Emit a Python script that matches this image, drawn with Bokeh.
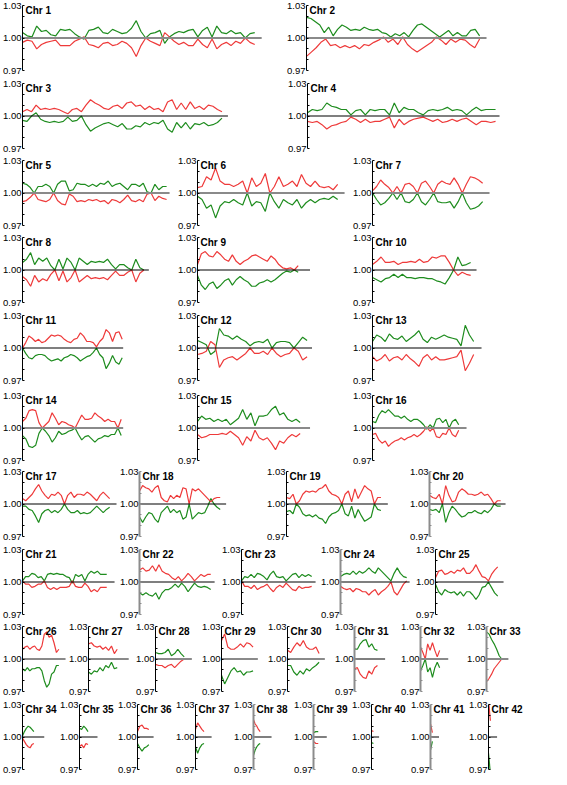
import numpy as np
from bokeh.plotting import figure
from bokeh.layouts import row, column
from bokeh.models import Label, FixedTicker, NumeralTickFormatter
from bokeh.embed import file_html
from bokeh.resources import INLINE

# ---------------- data ----------------
chrom_names = [f"Chr {i}" for i in range(1, 43)]
chrom_len_mb = [234, 175, 201, 190, 146, 142, 112, 123, 102, 100, 101, 111, 103, 100,
                104, 88, 89, 82, 96, 73, 86, 73, 72, 68, 64, 38, 30, 30, 33, 33, 24,
                20, 16, 12, 9, 12, 9, 7, 5, 2, 2, 2]
tick_values = [0.97, 1.00, 1.03]
minor_tick_values = [0.98, 0.99, 1.01, 1.02]
baseline_value = 1.00

# per-mille deviation from 1.00, evenly spaced along each chromosome
red_01 = [-4,-2,-3,-10,-6,-4,-3,-2,-7,-7,-7,-3,-1,1,-6,-7,-9,-5,-4,-7,-6,-3,-5,-9,-17,-7,0,-3,-5,-7,5,1,-3,-6,-4,-7,-7,-1,-6,-9,-1,-10,-6,-4,-7,-3,-5,0,-4,-6]
green_01 = [5,2,1,11,6,7,3,2,8,7,8,4,1,-1,7,8,10,5,4,8,6,4,5,9,16,6,0,4,5,7,-5,1,4,6,5,7,8,1,7,10,1,11,5,4,7,4,5,0,4,5]
red_02 = [-17,-13,-9,-4,-1,-7,-6,-9,-7,-9,-7,-10,-6,-7,-4,-2,1,-4,-1,-6,1,-6,-10,-13,-10,-7,-4,1,-2,-6,-1,-4,-1,-2,-6,-9,-1]
green_02 = [19,18,15,12,5,10,2,8,12,10,7,8,7,10,8,7,8,5,4,1,4,2,5,1,7,12,13,10,7,4,1,4,7,2,5,2,2,7,8,2]
red_03 = [4,6,4,10,6,7,6,7,6,4,2,6,7,4,10,15,12,10,7,6,9,10,7,12,13,9,10,6,9,6,7,4,13,15,6,12,6,13,7,9,6,10,9,6,4]
green_03 = [-4,-5,0,3,-3,-5,-6,-5,-6,-5,-1,-5,-4,0,-8,-14,-11,-9,-7,-6,-8,-10,-7,-12,-12,-9,-10,-6,-8,-6,-7,-4,-12,-15,-6,-11,-6,-12,-7,-8,-6,-9,-8,-6,-2]
red_04 = [-5,-6,-5,-8,-12,-9,-8,-6,-5,-1,-3,-6,-3,-6,-5,-5,-3,-1,-11,-3,-8,-5,-3,-2,-1,-3,-5,-3,-6,-5,-3,-5,-3,-2,-5,-8,-5,-5,-6,-5]
green_04 = [3,6,5,6,12,9,8,6,6,1,5,6,1,6,5,6,6,1,12,3,8,6,6,3,1,5,6,5,6,8,5,6,5,1,5,8,5,6,6,6]
red_05 = [-8,-7,-4,0,-6,-7,-8,-6,0,-7,-10,-11,-1,-3,-8,-7,-8,-6,-7,-6,-8,-7,-10,-6,-7,-9,-6,-2,-7,-8,-6,-8,-1,0,-7,-3,-5,-6]
green_05 = [9,8,5,0,6,6,8,6,0,8,11,11,2,3,9,8,8,6,8,6,9,8,11,6,8,9,6,3,8,8,6,9,1,0,8,3,6,6]
red_06 = [5,6,15,12,23,11,8,8,6,8,11,0,14,6,9,18,0,6,15,6,8,11,6,17,9,6,11,6,5,6,3,8]
green_06 = [-3,-6,-14,-11,-23,-12,-8,-9,-6,-9,-11,0,-12,-8,-9,-17,0,-8,-14,-6,-9,-11,-6,-14,-9,-6,-9,-6,-5,-6,-3,-6]
red_07 = [2,6,12,8,5,0,6,0,8,9,6,0,9,11,6,0,8,11,9,8,14,8,0,8,15,14,12,9]
green_07 = [0,-6,-11,-9,-5,0,-6,0,-8,-9,-6,0,-8,-11,-6,0,-8,-9,-9,-8,-14,-8,0,-9,-15,-14,-12,-8]
red_08 = [-6,-9,-15,-5,-11,-8,-10,-4,0,-10,-1,-11,-7,0,-11,-8,-5,-8,-7,-8,-7,-9,-5,-1,-5,-5,-2,0,-11,-3,0]
green_08 = [7,10,16,5,11,8,11,4,0,10,1,11,7,0,11,8,5,8,7,8,7,10,5,1,5,5,2,0,10,2,0]
red_09 = [5,15,17,13,12,17,14,10,8,14,8,5,8,10,13,14,12,10,8,13,10,5,2,1,2,0,4]
green_09 = [-5,-14,-18,-13,-11,-17,-14,-10,-8,-14,-9,-6,-9,-11,-15,-15,-12,-11,-9,-11,-9,-6,-3,-1,-2,0,-2]
red_10 = [5,8,12,7,7,8,5,7,7,8,7,10,7,8,12,11,13,13,7,0,-5,-2,-4,-5]
green_10 = [-7,-9,-11,-8,-7,-4,-7,-4,-7,-7,-8,-7,-7,-8,-8,-10,-11,-13,-7,0,12,4,5,7]
red_11 = [0,5,11,9,6,8,5,6,9,12,11,12,11,8,6,5,8,9,14,11,6,6,5,1,6,9,17,14,6,14,15,8]
green_11 = [0,-5,-9,-10,-7,-6,-6,-7,-10,-12,-11,-10,-12,-9,-8,-6,-7,-9,-12,-10,-8,-7,-4,0,-6,-9,-19,-14,-7,-13,-15,-9]
red_12 = [-6,-5,-3,6,3,-18,-11,-9,-8,-11,-8,-5,0,-5,-5,-3,-6,0,-5,-8,-6,-5,0,-3,-11,-8]
green_12 = [7,5,3,-6,-3,18,12,11,8,11,8,6,2,5,6,5,8,0,5,6,6,5,0,5,10,7]
red_13 = [-8,-12,-10,-6,-12,-9,-8,-11,-6,-10,-13,-17,-9,-6,-11,-8,-11,-11,-10,-9,-8,-2,-21,-14,-6]
green_13 = [6,12,10,6,13,9,8,11,6,9,12,16,8,5,10,8,10,12,10,9,8,2,21,12,6]
red_14 = [6,9,16,17,16,5,0,3,6,14,9,3,6,5,3,2,0,6,12,8,8,9,14,11,9,6,8,6,6,0,8]
green_14 = [-7,-10,-17,-18,-16,-5,0,-3,-7,-13,-9,-3,-6,-5,-3,-2,0,-6,-11,-8,-7,-10,-13,-10,-9,-7,-8,-6,-6,0,-7]
red_15 = [-6,-9,-8,-6,-6,-6,-5,-6,-3,-6,-9,-16,-8,-12,-2,-9,-11,-9,-14,-20,-12,-14,-9,-6,-8,-5]
green_15 = [6,11,8,9,6,8,6,8,3,6,9,17,8,14,2,11,11,12,17,20,12,14,8,6,8,5]
red_16 = [-6,-5,-11,-14,-12,-17,-14,-12,-11,-9,-11,-9,-8,-6,-8,-6,-3,1,-3,0,-8,-9,-5,-6,0,-6,-8,-2]
green_16 = [6,5,12,16,14,17,14,11,11,9,11,8,6,8,8,6,3,-1,3,0,8,9,5,8,0,6,8,3]
red_17 = [5,3,6,9,14,18,12,8,5,9,8,11,8,0,8,11,6,9,9,8,11,9,6,3,8,11,8,5]
green_17 = [-2,-2,-5,-6,-11,-17,-9,-6,-5,-8,-6,-8,-5,0,-5,-8,-8,-6,-9,-8,-9,-8,-5,-2,-5,-8,-5,-3]
red_18 = [12,17,15,14,11,15,17,6,3,2,8,5,8,6,15,14,0,14,12,14,11,8,5,2,5,6,6]
green_18 = [-12,-17,-12,-8,-9,-14,-17,-8,-5,-2,-8,-5,-8,-6,-14,-12,0,-14,-11,-8,-9,-8,-2,5,0,-3,-5]
red_19 = [6,5,9,0,3,9,12,11,12,11,14,15,18,12,9,8,6,0,9,12,2,14,5,11,17,14,12,0,6,6]
green_19 = [-7,-6,-9,0,-3,-9,-11,-10,-12,-10,-13,-14,-18,-12,-9,-8,-6,0,-9,-11,-2,-13,-5,-11,-16,-14,-12,0,-5,-6]
red_20 = [8,6,5,9,0,17,8,2,3,11,14,12,9,9,8,9,11,8,9,5,0,3,3]
green_20 = [-5,-6,-5,-8,0,-17,-8,-2,-5,-9,-12,-11,-8,-8,-6,-8,-9,-6,-8,-5,0,-2,-2]
red_21 = [1,-2,-2,-5,-4,-2,-2,1,-5,-7,-5,-7,-5,-5,-5,-4,1,-4,-5,-5,-1,-4,-9,-7,-9,-5,-5,-5]
green_21 = [1,5,5,8,7,4,5,1,7,8,7,8,7,7,5,4,-1,7,5,7,1,7,10,8,10,7,7,7]
red_22 = [11,13,10,11,15,10,16,10,8,7,4,2,5,1,4,8,5,1,4,7,5,7,7]
green_22 = [-10,-12,-10,-12,-13,-10,-16,-10,-7,-7,-5,-2,-5,-1,-4,-9,-5,-1,-4,-5,-4,-5,-7]
red_23 = [1,-4,-4,-6,-3,-7,-5,-4,-2,-6,-9,-5,-3,-5,-1,-4,-7,-8,-4,-6,-5,-5,-4]
green_23 = [1,5,4,7,4,8,7,5,2,7,10,5,4,5,1,4,7,8,4,7,5,7,5]
red_24 = [-4,-6,-7,-6,-9,-6,-7,-9,-9,-12,-9,-7,-12,-9,-7,-4,0,-9,-12,-7,-2,1]
green_24 = [5,7,8,7,10,7,10,8,10,13,10,8,13,10,7,4,1,8,13,8,5,4]
red_25 = [4,10,11,7,8,10,8,11,10,13,8,8,11,16,10,5,4,1,7,11,14]
green_25 = [-2,-9,-12,-7,-9,-10,-9,-12,-9,-13,-9,-9,-12,-16,-12,-5,-4,0,-5,-10,-13]
red_26 = [9,11,12,9,11,12,9,8,12,23,25,20,22,15,6,9]
green_26 = [-9,-11,-8,-11,-9,-9,-8,-8,-11,-20,-26,-23,-14,-12,-6,-6]
red_27 = [14,15,12,11,12,9,11,8,12,5,9]
green_27 = [-12,-14,-11,-12,-8,-11,-6,-8,-3,-9,-8]
red_28 = [-5,-6,-6,-8,-6,-5,-8,-5,-2,0]
green_28 = [6,5,5,6,9,3,5,9,5,2]
red_29 = [17,23,11,9,9,11,14,11,15,14,11]
green_29 = [-15,-23,-17,-11,-8,-12,-11,-15,-12,-12,-11]
red_30 = [8,6,11,15,12,17,11,9,9,11,5]
green_30 = [-6,-6,-12,-15,-11,-14,-9,-11,-8,-6,-3]
red_31 = [-9,-8,-14,-17,-18,-11,-14,-8,-6]
green_31 = [9,9,14,17,18,11,14,9,8]
red_32 = [11,6,0,14,8,15,8,2,8]
green_32 = [-11,-6,0,-12,-8,-17,-8,-3,-8]
red_33 = [-21,-18,-14,-9,-6,-3,0]
green_33 = [25,23,18,14,9,3,0]
red_34 = [-1,-4,-7,-9,-10,-7,-6]
green_34 = [1,5,8,10,9,7,5]
red_35 = [-9,-7,-10,-6,-7]
green_35 = [8,7,10,8,5]
red_36 = [5,10,11,8,8,7]
green_36 = [-6,-10,-13,-10,-9,-7]
red_37 = [7,13,10,7,5]
green_37 = [-9,-15,-10,-7,-6]
red_38 = [16,12,10,7,5]
green_38 = [-17,-12,-9,-7,-6]
red_39 = [-4,-6,-6]
green_39 = [4,5,5]
red_40 = [6,5]
green_40 = [-5,-6]
red_41 = [12,4]
green_41 = [-12,-4]
red_42 = [34,15]
green_42 = [-15,-34]

red_series = [red_01, red_02, red_03, red_04, red_05, red_06, red_07, red_08, red_09, red_10,
              red_11, red_12, red_13, red_14, red_15, red_16, red_17, red_18, red_19, red_20,
              red_21, red_22, red_23, red_24, red_25, red_26, red_27, red_28, red_29, red_30,
              red_31, red_32, red_33, red_34, red_35, red_36, red_37, red_38, red_39, red_40,
              red_41, red_42]
green_series = [green_01, green_02, green_03, green_04, green_05, green_06, green_07, green_08,
                green_09, green_10, green_11, green_12, green_13, green_14, green_15, green_16,
                green_17, green_18, green_19, green_20, green_21, green_22, green_23, green_24,
                green_25, green_26, green_27, green_28, green_29, green_30, green_31, green_32,
                green_33, green_34, green_35, green_36, green_37, green_38, green_39, green_40,
                green_41, green_42]

# ---------------- layout / style ----------------
ROWS = [[1, 2], [3, 4], [5, 6, 7], [8, 9, 10], [11, 12, 13], [14, 15, 16],
        [17, 18, 19, 20], [21, 22, 23, 24, 25], list(range(26, 34)), list(range(34, 43))]
AXIS_X = [[21, 305], [20, 305], [19, 194, 369], [19, 194, 369], [19, 194, 369],
          [19, 194, 369], [19, 136, 283, 426], [19, 136, 238, 337, 432],
          [19, 85, 152, 218, 284, 351, 417, 483],
          [20, 77, 135, 193, 251, 311, 369, 428, 486]]
# pixel length of the baseline in each panel
BASE_W = [241, 182, 207, 194, 149, 149, 119, 128, 114, 106, 102, 116, 111, 102, 114, 96,
          96, 88, 103, 78, 94, 77, 76, 71, 70, 45, 42, 38, 38, 39, 32, 29, 23, 23, 19, 17,
          17, 19, 14, 8, 9, 9]
ROW_H = [78, 77, 77, 78, 80, 76, 78, 77, 78, 76]
FRAME_H = 65
TOP_B = 5
LB = 20
PX_PER_MB = 1.0

GRAY_HLINE = {1, 2, 5, 6, 7, 14, 15, 16, 26, 27, 28, 29, 30, 32, 33}
GRAY_AXIS = {18, 20, 22, 24, 31, 32, 33, 38, 39, 41}
RED = "#ee3a3a"
GREEN = "#1e8c1e"
FONT = "Liberation Sans"


def make_panel(c, width, height):
    fw = width - LB  # frame spans the rest of the figure (room for the title)
    p = figure(width=width, height=height,
               x_range=(0, fw / PX_PER_MB), y_range=(0.97, 1.03),
               x_axis_type=None, toolbar_location=None, output_backend="svg",
               min_border_left=LB, min_border_right=0,
               min_border_top=TOP_B, min_border_bottom=height - TOP_B - FRAME_H,
               outline_line_color=None, background_fill_color="white",
               border_fill_color="white")
    p.xgrid.visible = False
    p.ygrid.visible = False
    ax = p.yaxis[0]
    ax.ticker = FixedTicker(ticks=tick_values, minor_ticks=minor_tick_values)
    ax.formatter = NumeralTickFormatter(format="0.00")
    ax.major_label_text_font = FONT
    ax.major_label_text_font_size = "9.5px"
    ax.major_label_text_color = "black"
    ax.major_label_standoff = 1
    gray_ax = c in GRAY_AXIS
    acol = "#8c8c8c" if gray_ax else "black"
    ax.axis_line_color = acol
    ax.axis_line_width = 2 if gray_ax else 1
    ax.major_tick_line_color = acol
    ax.minor_tick_line_color = acol
    ax.major_tick_in = 2
    ax.major_tick_out = 0
    ax.minor_tick_in = 2
    ax.minor_tick_out = 0

    L = chrom_len_mb[c - 1]
    g = np.array(green_series[c - 1], dtype=float)
    r = np.array(red_series[c - 1], dtype=float)
    xg = np.linspace(0, L, len(g))
    xr = np.linspace(0, L, len(r))
    p.line(xg, 1 + g / 1000.0, line_color=GREEN, line_width=1.2)
    p.line(xr, 1 + r / 1000.0, line_color=RED, line_width=1.2)

    gray_h = c in GRAY_HLINE
    p.segment(x0=[0], y0=[baseline_value], x1=[BASE_W[c - 1] / PX_PER_MB], y1=[baseline_value],
              line_color="#8a8a8a" if gray_h else "black",
              line_width=2.2 if gray_h else 1.2)

    p.add_layout(Label(x=0, y=1.03, x_offset=3, y_offset=1, text=chrom_names[c - 1],
                       text_font=FONT, text_font_size="10px", text_font_style="bold",
                       text_baseline="top", text_align="left", text_color="black"))
    return p


rows = []
for ri, chroms in enumerate(ROWS):
    axes = AXIS_X[ri]
    figs = []
    for j, c in enumerate(chroms):
        if j < len(chroms) - 1:
            w = axes[j + 1] - axes[j]
        else:
            w = LB + max(BASE_W[c - 1], 40) + 2
        figs.append(make_panel(c, w, ROW_H[ri]))
    rows.append(row(*figs, spacing=0))

layout = column(*rows, spacing=0)

open("out.html", "w").write(file_html(layout, INLINE))
